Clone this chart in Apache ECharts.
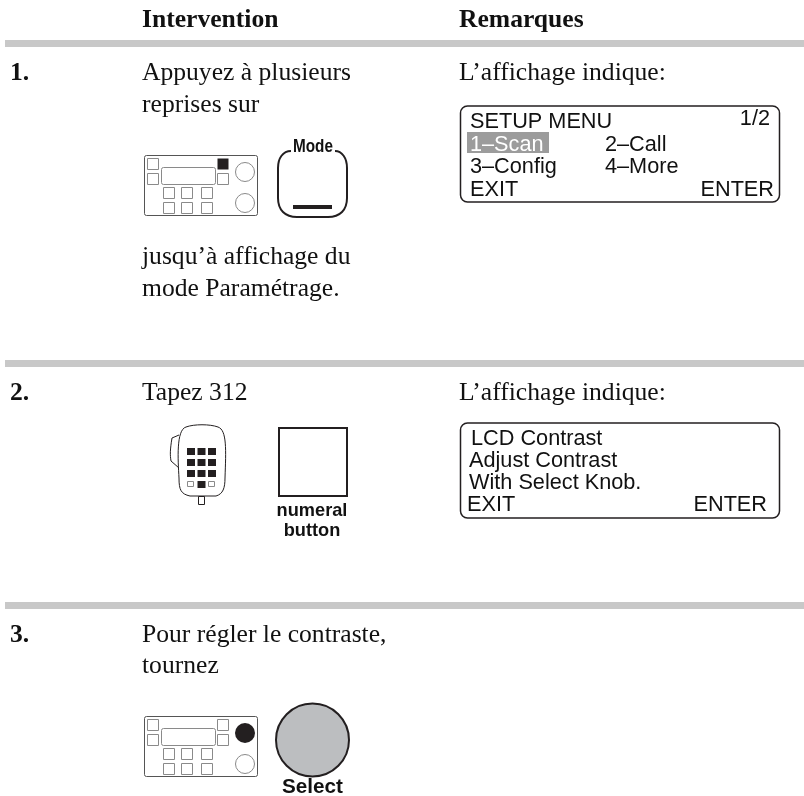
<!DOCTYPE html>
<html><head><meta charset="utf-8">
<style>html,body{margin:0;padding:0;background:#fff}#c{width:804px;height:796px}</style>
<script src="https://cdn.jsdelivr.net/npm/echarts@6/dist/echarts.min.js"></script>
</head><body><div id="c"></div>
<script>
const headers = ['Intervention', 'Remarques'];
const stepNumbers = ['1.', '2.', '3.'];
const step1Lines = ['Appuyez à plusieurs', 'reprises sur'];
const step1After = ['jusqu’à affichage du', 'mode Paramétrage.'];
const step2Lines = ['Tapez 312'];
const step3Lines = ['Pour régler le contraste,', 'tournez'];
const remark = 'L’affichage indique:';
const lcd1 = ['SETUP MENU', '1–Scan', '2–Call', '3–Config', '4–More', 'EXIT', 'ENTER', '1/2'];
const lcd2 = ['LCD Contrast', 'Adjust Contrast', 'With Select Knob.', 'EXIT', 'ENTER'];

echarts.graphic.registerShape('cmdPath', echarts.graphic.extendShape({
  type: 'cmdPath', shape: { cmds: [] },
  buildPath(ctx, shape) {
    shape.cmds.forEach(c => {
      if (c[0] === 'M') ctx.moveTo(c[1], c[2]);
      else if (c[0] === 'L') ctx.lineTo(c[1], c[2]);
      else if (c[0] === 'C') ctx.bezierCurveTo(c[1], c[2], c[3], c[4], c[5], c[6]);
      else if (c[0] === 'Z') ctx.closePath();
    });
  }
}));

const SERIF = '"Liberation Serif","Times New Roman",serif';
const SANS = '"Liberation Sans",Arial,sans-serif';
const INK = '#231f20', GREY = '#c8c8c8', LIGHT = '#8a8a8a';
const BODY = 25.6, LCD = 21.7;
const g = [];
function T(x, base, s, o) {
  o = o || {};
  const size = o.size || BODY;
  const off = o.fam === SANS ? 0.84 : 0.76;
  g.push({ type: 'text', x, y: base - off * size, scaleX: o.sx || 1, z: 5, style: {
    text: s, fill: o.fill || '#111', font: (o.w || 'normal') + ' ' + size + 'px ' + (o.fam || SERIF),
    textAlign: o.align || 'left' } });
}
function R(x, y, w, h, o) {
  o = o || {};
  g.push({ type: 'rect', z: o.z || 2, shape: { x, y, width: w, height: h, r: o.r || 0 },
    style: { fill: o.fill || 'none', stroke: o.stroke || null, lineWidth: o.lw || 1 } });
}
function C(cx, cy, r, o) {
  g.push({ type: 'circle', z: 2, shape: { cx, cy, r }, style: { fill: o.fill || 'none', stroke: o.stroke || null, lineWidth: o.lw || 1 } });
}
function P(cmds, o) {
  g.push({ type: 'cmdPath', z: 2, shape: { cmds }, style: { fill: o.fill || 'none', stroke: o.stroke || null, lineWidth: o.lw || 1 } });
}
function panel(ox, oy, black, knob) {
  R(ox + .5, oy + .5, 113, 60, { stroke: '#555', lw: 1, r: 2 });
  const bs = (x, y, f) => R(x + .5, y + .5, 11, 11, f ? { fill: INK } : { stroke: LIGHT });
  bs(ox + 3, oy + 3); bs(ox + 3, oy + 18);
  bs(ox + 73, oy + 3, black); bs(ox + 73, oy + 18);
  R(ox + 17.5, oy + 12.5, 54, 17, { stroke: LIGHT, r: 2 });
  [19, 37, 57].forEach(dx => { bs(ox + dx, oy + 32); bs(ox + dx, oy + 47); });
  if (knob) C(ox + 101, oy + 17, 10, { fill: INK }); else C(ox + 101, oy + 17, 9.5, { stroke: LIGHT });
  C(ox + 101, oy + 48, 9.5, { stroke: LIGHT });
}

[40, 360, 602].forEach(y => R(5, y, 799, 7, { fill: GREY }));

T(142, 27, headers[0], { w: 'bold' });
T(459, 27, headers[1], { w: 'bold' });
T(10, 80, stepNumbers[0], { w: 'bold' });
T(10, 400, stepNumbers[1], { w: 'bold' });
T(10, 642, stepNumbers[2], { w: 'bold' });

T(142, 80, step1Lines[0]); T(142, 112, step1Lines[1]);
T(142, 264, step1After[0]); T(142, 296, step1After[1]);
T(459, 80, remark);
panel(144, 155, true, false);
P([['M', 291, 151], ['C', 283, 151, 278, 158, 278, 168], ['L', 278, 198], ['C', 278, 210, 285, 217, 297, 217],
   ['L', 328, 217], ['C', 340, 217, 347, 210, 347, 198], ['L', 347, 168], ['C', 347, 158, 342, 151, 335, 151]],
  { stroke: INK, lw: 2 });
R(293, 205, 39, 4, { fill: INK });
T(313, 153, 'Mode', { w: 'bold', fam: SANS, size: 18, align: 'center', sx: .85 });

R(460.5, 106, 319, 96, { stroke: INK, lw: 1.5, r: 7 });
R(467, 132, 82, 21, { fill: '#9c9c9c', z: 1 });
const L = { fam: SANS, size: LCD };
T(470, 129, lcd1[0], L); T(470, 152, lcd1[1], { fam: SANS, size: LCD, fill: '#fff' });
T(605, 152, lcd1[2], L); T(470, 174, lcd1[3], L); T(605, 174, lcd1[4], L);
T(470, 197, lcd1[5], L); T(774, 197, lcd1[6], { fam: SANS, size: LCD, align: 'right' });
T(770, 126, lcd1[7], { fam: SANS, size: LCD, align: 'right' });

T(142, 400, step2Lines[0]); T(459, 400, remark);
R(460.5, 423, 319, 95, { stroke: INK, lw: 1.5, r: 7 });
T(471, 446, lcd2[0], L); T(469, 468, lcd2[1], L); T(469, 490, lcd2[2], L);
T(467, 512, lcd2[3], L); T(767, 512, lcd2[4], { fam: SANS, size: LCD, align: 'right' });
P([['M', 186, 427], ['C', 176, 430, 178, 460, 179, 478], ['C', 179, 490, 181, 494, 190, 496], ['L', 216, 496],
   ['C', 223, 494, 225, 488, 225, 478], ['C', 226, 450, 227, 430, 218, 427], ['C', 210, 424, 194, 424, 186, 427], ['Z']],
  { stroke: INK, lw: 1 });
P([['M', 179, 435], ['L', 172, 438], ['C', 170, 450, 170, 455, 171, 461], ['L', 179, 468]], { stroke: INK, lw: 1 });
R(198.5, 496.5, 6, 8, { stroke: INK });
const micX = [187, 197.5, 208];
[0, 1, 2].forEach(r => micX.forEach(x => R(x, 448 + r * 11, 8, 7, { fill: INK })));
R(187.5, 481.5, 6, 5, { stroke: LIGHT }); R(197.5, 481, 8, 7, { fill: INK }); R(208.5, 481.5, 6, 5, { stroke: LIGHT });
R(279, 428, 68, 68, { stroke: INK, lw: 2 });
T(312, 517, 'numeral', { w: 'bold', fam: SANS, size: 18.2, align: 'center' });
T(312, 537, 'button', { w: 'bold', fam: SANS, size: 18.2, align: 'center' });

T(142, 642, step3Lines[0]); T(142, 673, step3Lines[1]);
panel(144, 716, false, true);
C(312.5, 740, 36.5, { fill: '#bcbec0', stroke: INK, lw: 2 });
T(312.5, 794, 'Select', { w: 'bold', fam: SANS, size: 20.7, align: 'center' });

const chart = echarts.init(document.getElementById('c'), null, { renderer: 'canvas' });
chart.setOption({ animation: false, backgroundColor: '#fff', graphic: { elements: g } });
</script></body></html>
